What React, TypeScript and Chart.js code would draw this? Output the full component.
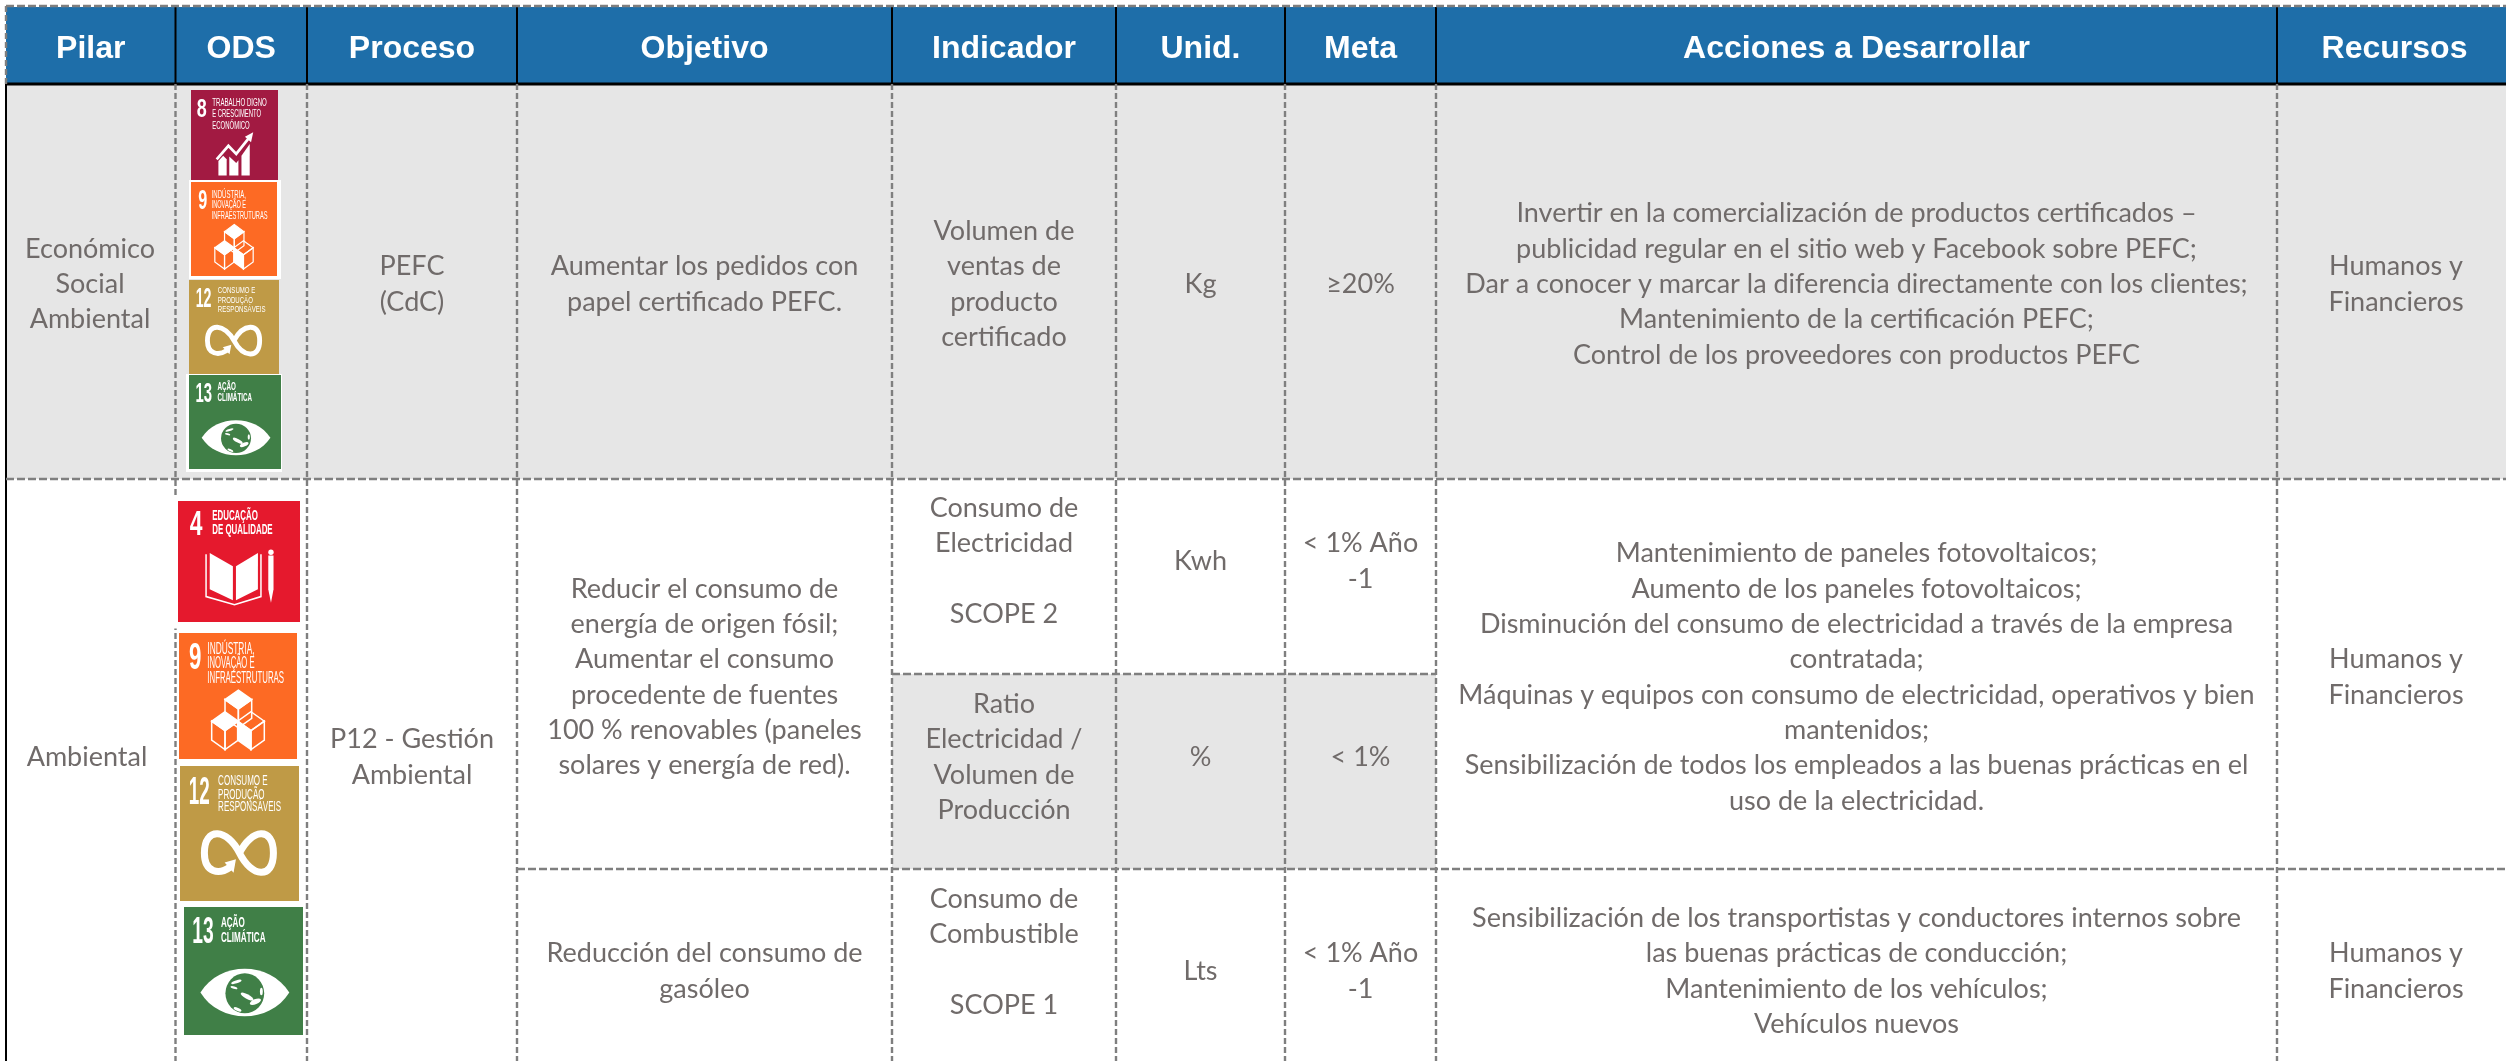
import React, { useEffect, useRef } from "react";
import { Chart, registerables } from "chart.js";

Chart.register(...registerables);

const WIDTH = 2506;
const HEIGHT = 1061;

// ---- table content ----
const headers = ["Pilar", "ODS", "Proceso", "Objetivo", "Indicador", "Unid.", "Meta", "Acciones a Desarrollar", "Recursos"];
const pilar = [["Económico", "Social", "Ambiental"], ["Ambiental"]];
const proceso = [["PEFC", "(CdC)"], ["P12 - Gestión", "Ambiental"]];
const objetivo = [
  ["Aumentar los pedidos con", "papel certificado PEFC."],
  ["Reducir el consumo de", "energía de origen fósil;", "Aumentar el consumo", "procedente de fuentes", "100 % renovables (paneles", "solares y energía de red)."],
  ["Reducción del consumo de", "gasóleo"],
];
const indicador = [
  ["Volumen de", "ventas de", "producto", "certificado"],
  ["Consumo de", "Electricidad", "", "SCOPE 2"],
  ["Ratio", "Electricidad /", "Volumen de", "Producción"],
  ["Consumo de", "Combustible", "", "SCOPE 1"],
];
const unidad = ["Kg", "Kwh", "%", "Lts"];
const meta = [["≥20%"], ["< 1% Año", "-1"], ["< 1%"], ["< 1% Año", "-1"]];
const acciones = [
  ["Invertir en la comercialización de productos certificados –", "publicidad regular en el sitio web y Facebook sobre PEFC;", "Dar a conocer y marcar la diferencia directamente con los clientes;", "Mantenimiento de la certificación PEFC;", "Control de los proveedores con productos PEFC"],
  ["Mantenimiento de paneles fotovoltaicos;", "Aumento de los paneles fotovoltaicos;", "Disminución del consumo de electricidad a través de la empresa", "contratada;", "Máquinas y equipos con consumo de electricidad, operativos y bien", "mantenidos;", "Sensibilización de todos los empleados a las buenas prácticas en el", "uso de la electricidad."],
  ["Sensibilización de los transportistas y conductores internos sobre", "las buenas prácticas de conducción;", "Mantenimiento de los vehículos;", "Vehículos nuevos"],
];
const recursos = ["Humanos y", "Financieros"];

// ---- layout in axis units (axes run 0..2506 and 0..1061) ----
const colEdges = [6, 175.5, 307, 517, 892, 1116, 1285, 1436, 2277, 2512];
const headerTop = 7;
const headerBottom = 84;
const rowRule1 = 479;
const rowRule2 = 674;
const rowRule3 = 869;
const rowCentre1 = 283;
const rowCentre2 = 560;
const rowCentre3 = 756;
const rowCentre4 = 970;
const mergedCentre = 676;

type Cell = { x: number; y: number; lines: string[] };
const mid = (i: number) => (colEdges[i] + colEdges[i + 1]) / 2;
const cells: Cell[] = [
  { x: 90, y: rowCentre1, lines: pilar[0] },
  { x: 87, y: rowCentre3, lines: pilar[1] },
  { x: mid(2), y: rowCentre1, lines: proceso[0] },
  { x: mid(2), y: rowCentre3, lines: proceso[1] },
  { x: mid(3), y: rowCentre1, lines: objetivo[0] },
  { x: mid(3), y: mergedCentre, lines: objetivo[1] },
  { x: mid(3), y: rowCentre4, lines: objetivo[2] },
  { x: mid(4), y: rowCentre1, lines: indicador[0] },
  { x: mid(4), y: rowCentre2, lines: indicador[1] },
  { x: mid(4), y: rowCentre3, lines: indicador[2] },
  { x: mid(4), y: 951, lines: indicador[3] },
  { x: mid(5), y: rowCentre1, lines: [unidad[0]] },
  { x: mid(5), y: rowCentre2, lines: [unidad[1]] },
  { x: mid(5), y: rowCentre3, lines: [unidad[2]] },
  { x: mid(5), y: rowCentre4, lines: [unidad[3]] },
  { x: mid(6), y: rowCentre1, lines: meta[0] },
  { x: mid(6), y: rowCentre2, lines: meta[1] },
  { x: mid(6), y: rowCentre3, lines: meta[2] },
  { x: mid(6), y: rowCentre4, lines: meta[3] },
  { x: mid(7), y: rowCentre1, lines: acciones[0] },
  { x: mid(7), y: mergedCentre, lines: acciones[1] },
  { x: mid(7), y: rowCentre4, lines: acciones[2] },
  { x: 2396, y: rowCentre1, lines: recursos },
  { x: 2396, y: mergedCentre, lines: recursos },
  { x: 2396, y: rowCentre4, lines: recursos },
];

const GREY = "#7f7f7f";
const BODY = "#706b6a";
const BLUE = "#1e6ea9";
const PANEL = "#e6e6e6";

type Seg = [number, number, number, number];
const dashedSegs: Seg[] = [
  [6, headerTop - 1, WIDTH, headerTop - 1],
  [6, headerTop - 1, 6, headerBottom],
  [6, rowRule1, WIDTH, rowRule1],
  [colEdges[4], rowRule2, colEdges[7], rowRule2],
  [colEdges[3], rowRule3, WIDTH, rowRule3],
  ...colEdges.slice(1, 9).map((x) => [x, headerBottom, x, HEIGHT] as Seg),
];
const solidSegs: Seg[] = [
  [6, headerBottom, WIDTH, headerBottom],
  [6, headerBottom, 6, HEIGHT],
  ...colEdges.slice(1, 9).map((x) => [x, headerTop, x, headerBottom] as Seg),
];

// ---- SDG tiles ----
type Tile = {
  kind: "8" | "9" | "12" | "13" | "4";
  box: [number, number, number, number];
  halo?: [number, number, number, number];
};
const tiles: Tile[] = [
  { kind: "8", box: [191, 90, 278, 180] },
  { kind: "9", box: [191, 182, 277, 276], halo: [189, 180, 281, 279] },
  { kind: "12", box: [189, 280, 279, 374] },
  { kind: "13", box: [189, 375, 281, 469], halo: [186, 374, 282, 472] },
  { kind: "4", box: [178, 501, 300, 622], halo: [172, 497, 303, 628.5] },
  { kind: "9", box: [179, 633, 297, 759] },
  { kind: "12", box: [180, 766, 299, 901] },
  { kind: "13", box: [184, 907, 303, 1035] },
];
const tileColor: Record<string, string> = { "8": "#a21a42", "9": "#fd6a24", "12": "#bf9a46", "13": "#407f47", "4": "#e5192d" };
const tileNumber: Record<string, [number, number, number]> = {
  "8": [0.065, 0.115, 0.295],
  "9": [0.085, 0.105, 0.285],
  "12": [0.074, 0.176, 0.285],
  "13": [0.07, 0.18, 0.285],
  "4": [0.096, 0.104, 0.278],
};
const tileTitle: Record<string, { u: number; bold: boolean; size: number; rows: [string, number, number][] }> = {
  "8": { u: 0.245, bold: false, size: 0.125, rows: [["TRABALHO DIGNO", 0.178, 0.627], ["E CRESCIMENTO", 0.296, 0.56], ["ECONÓMICO", 0.43, 0.43]] },
  "9": { u: 0.24, bold: false, size: 0.125, rows: [["INDÚSTRIA,", 0.17, 0.4], ["INOVAÇÃO E", 0.279, 0.4], ["INFRAESTRUTURAS", 0.396, 0.65]] },
  "12": { u: 0.32, bold: false, size: 0.105, rows: [["CONSUMO E", 0.142, 0.417], ["PRODUÇÃO", 0.241, 0.39], ["RESPONSÁVEIS", 0.337, 0.53]] },
  "13": { u: 0.31, bold: true, size: 0.11, rows: [["AÇÃO", 0.16, 0.2], ["CLIMÁTICA", 0.277, 0.375]] },
  "4": { u: 0.28, bold: true, size: 0.115, rows: [["EDUCAÇÃO", 0.155, 0.375], ["DE QUALIDADE", 0.275, 0.496]] },
};

function drawPictogram(ctx: CanvasRenderingContext2D, kind: string, X: (u: number) => number, Y: (v: number) => number, w: number, h: number) {
  const poly = (pts: number[][], close = true) => {
    ctx.beginPath();
    pts.forEach((p, i) => (i ? ctx.lineTo(X(p[0]), Y(p[1])) : ctx.moveTo(X(p[0]), Y(p[1]))));
    if (close) ctx.closePath();
  };
  ctx.fillStyle = "#fff";
  ctx.strokeStyle = "#fff";
  ctx.lineJoin = "miter";
  if (kind === "8") {
    poly([[0.315, 0.95], [0.315, 0.79], [0.37, 0.73], [0.41, 0.77], [0.41, 0.95]]);
    ctx.fill();
    poly([[0.44, 0.95], [0.44, 0.74], [0.52, 0.81], [0.545, 0.78], [0.545, 0.95]]);
    ctx.fill();
    poly([[0.58, 0.95], [0.58, 0.73], [0.675, 0.6], [0.675, 0.95]]);
    ctx.fill();
    ctx.lineWidth = 0.03 * h;
    poly([[0.295, 0.77], [0.43, 0.62], [0.52, 0.71], [0.66, 0.54]], false);
    ctx.stroke();
    poly([[0.715, 0.47], [0.69, 0.58], [0.62, 0.52]]);
    ctx.fill();
  } else if (kind === "9") {
    const a = 0.113, b = 0.15, c = b / 2;
    ctx.lineWidth = Math.max(1.2, 0.012 * h);
    const topFace = (cx: number, cy: number) => [[cx, cy - b], [cx + a, cy - c], [cx, cy], [cx - a, cy - c]];
    const leftFace = (cx: number, cy: number) => [[cx - a, cy - c], [cx, cy], [cx, cy + b], [cx - a, cy + c]];
    const rightFace = (cx: number, cy: number) => [[cx + a, cy - c], [cx, cy], [cx, cy + b], [cx + a, cy + c]];
    const cube = (cx: number, cy: number, solid: "top" | "left") => {
      [topFace(cx, cy), leftFace(cx, cy), rightFace(cx, cy)].forEach((f) => {
        poly(f);
        ctx.stroke();
      });
      poly(solid === "top" ? topFace(cx, cy) : leftFace(cx, cy));
      ctx.fill();
    };
    cube(0.503, 0.603, "top");
    cube(0.39, 0.775, "top");
    cube(0.61, 0.775, "left");
  } else if (kind === "12") {
    ctx.lineWidth = 0.052 * h;
    ctx.lineCap = "butt";
    const m = 0.645;
    ctx.beginPath();
    ctx.moveTo(X(0.5), Y(m));
    ctx.bezierCurveTo(X(0.6), Y(m - 0.18), X(0.785), Y(m - 0.2), X(0.785), Y(m));
    ctx.bezierCurveTo(X(0.785), Y(m + 0.2), X(0.6), Y(m + 0.18), X(0.5), Y(m));
    ctx.bezierCurveTo(X(0.4), Y(m - 0.18), X(0.205), Y(m - 0.2), X(0.205), Y(m));
    ctx.bezierCurveTo(X(0.205), Y(m + 0.15), X(0.33), Y(m + 0.16), X(0.42), Y(m + 0.105));
    ctx.stroke();
    poly([[0.47, 0.69], [0.45, 0.79], [0.375, 0.715]]);
    ctx.fill();
  } else if (kind === "13") {
    ctx.beginPath();
    ctx.moveTo(X(0.138), Y(0.668));
    ctx.bezierCurveTo(X(0.3), Y(0.42), X(0.72), Y(0.42), X(0.885), Y(0.668));
    ctx.bezierCurveTo(X(0.72), Y(0.916), X(0.3), Y(0.916), X(0.138), Y(0.668));
    ctx.closePath();
    ctx.fill();
    ctx.fillStyle = tileColor["13"];
    ctx.beginPath();
    ctx.ellipse(X(0.511), Y(0.674), 0.163 * w, 0.156 * h, 0, 0, Math.PI * 2);
    ctx.fill();
    ctx.fillStyle = "#fff";
    const blob = (u: number, v: number, ru: number, rv: number, rot: number) => {
      ctx.beginPath();
      ctx.ellipse(X(u), Y(v), ru * w, rv * h, rot, 0, Math.PI * 2);
      ctx.fill();
    };
    blob(0.44, 0.585, 0.045, 0.012, -0.3);
    blob(0.42, 0.63, 0.03, 0.01, 0.3);
    blob(0.53, 0.7, 0.06, 0.018, 0.5);
    blob(0.6, 0.74, 0.05, 0.02, -0.4);
    blob(0.45, 0.8, 0.035, 0.012, 0.4);
    blob(0.65, 0.66, 0.012, 0.03, 0);
  } else if (kind === "4") {
    ctx.lineWidth = Math.max(1.5, 0.012 * h);
    poly([[0.26, 0.43], [0.45, 0.54], [0.45, 0.82], [0.26, 0.73]]);
    ctx.fill();
    poly([[0.475, 0.54], [0.655, 0.43], [0.655, 0.73], [0.475, 0.82]]);
    ctx.fill();
    poly([[0.23, 0.44], [0.23, 0.79], [0.463, 0.857], [0.68, 0.79], [0.68, 0.44]], false);
    ctx.stroke();
    poly([[0.74, 0.45], [0.783, 0.45], [0.783, 0.73], [0.762, 0.84], [0.74, 0.73]]);
    ctx.fill();
    ctx.beginPath();
    ctx.arc(X(0.762), Y(0.424), 0.022 * w, 0, Math.PI * 2);
    ctx.fill();
  }
}

function drawTile(ctx: CanvasRenderingContext2D, t: Tile, px: (v: number) => number, py: (v: number) => number) {
  if (t.halo) {
    ctx.fillStyle = "#fff";
    ctx.fillRect(px(t.halo[0]), py(t.halo[1]), px(t.halo[2]) - px(t.halo[0]), py(t.halo[3]) - py(t.halo[1]));
  }
  const x0 = px(t.box[0]), y0 = py(t.box[1]);
  const w = px(t.box[2]) - x0, h = py(t.box[3]) - y0;
  ctx.fillStyle = tileColor[t.kind];
  ctx.fillRect(x0, y0, w, h);
  const X = (u: number) => x0 + u * w;
  const Y = (v: number) => y0 + v * h;
  const [nu, nw, nb] = tileNumber[t.kind];
  ctx.fillStyle = "#fff";
  ctx.textAlign = "left";
  ctx.textBaseline = "alphabetic";
  ctx.font = `bold ${0.29 * h}px "Liberation Sans"`;
  ctx.fillText(t.kind, X(nu), Y(nb), nw * w);
  const title = tileTitle[t.kind];
  ctx.font = `${title.bold ? "bold " : ""}${title.size * h}px "Liberation Sans"`;
  title.rows.forEach(([s, v, mw]) => ctx.fillText(s, X(title.u), Y(v), mw * w));
  drawPictogram(ctx, t.kind, X, Y, w, h);
}

const tablePlugin = {
  id: "tablePlugin",
  beforeDatasetsDraw(chart: any) {
    const { ctx, scales } = chart;
    const px = (v: number) => scales.x.getPixelForValue(v);
    const py = (v: number) => scales.y.getPixelForValue(v);
    const fill = (c: string, a: number, b: number, d: number, e: number) => {
      ctx.fillStyle = c;
      ctx.fillRect(px(a), py(b), px(d) - px(a), py(e) - py(b));
    };
    ctx.save();
    fill(BLUE, 6, headerTop, WIDTH, headerBottom);
    fill(PANEL, 6, headerBottom, WIDTH, rowRule1);
    fill(PANEL, colEdges[4], rowRule2, colEdges[7], rowRule3);
    ctx.restore();
  },
  afterDatasetsDraw(chart: any) {
    const { ctx, scales } = chart;
    const px = (v: number) => scales.x.getPixelForValue(v);
    const py = (v: number) => scales.y.getPixelForValue(v);
    ctx.save();
    tiles.forEach((t) => {
      ctx.save();
      drawTile(ctx, t, px, py);
      ctx.restore();
    });
    ctx.textAlign = "center";
    ctx.textBaseline = "alphabetic";
    ctx.fillStyle = "#ffffff";
    ctx.font = 'bold 32px "Liberation Sans"';
    headers.forEach((h, i) => ctx.fillText(h, px(mid(i)), py(58)));
    const anchors = chart.getDatasetMeta(chart.data.datasets.length - 1).data;
    ctx.fillStyle = BODY;
    ctx.font = '27px "Lato"';
    const lh = 35.3;
    cells.forEach((c, i) => {
      const a = anchors[i];
      c.lines.forEach((s, j) => {
        if (s) ctx.fillText(s, a.x, a.y + (j - (c.lines.length - 1) / 2) * lh + 10);
      });
    });
    ctx.restore();
  },
};

const segDataset = (s: Seg, color: string, width: number, dash: number[]) => ({
  data: [{ x: s[0], y: s[1] }, { x: s[2], y: s[3] }],
  showLine: true,
  borderColor: color,
  borderWidth: width,
  borderDash: dash,
  pointRadius: 0,
  fill: false,
});

export default function App() {
  const ref = useRef<HTMLCanvasElement>(null);
  useEffect(() => {
    document.body.style.margin = "0";
    const chart = new Chart(ref.current as HTMLCanvasElement, {
      type: "scatter",
      data: {
        datasets: [
          ...dashedSegs.map((s) => segDataset(s, GREY, 2.4, s[1] === s[3] ? [8, 3] : [6, 3])),
          ...solidSegs.map((s) => segDataset(s, "#000000", s[1] === s[3] ? 3 : 2, [])),
          { data: cells.map((c) => ({ x: c.x, y: c.y })), pointRadius: 0, showLine: false },
        ],
      } as any,
      options: {
        animation: false,
        responsive: false,
        layout: { padding: 0 },
        plugins: { legend: { display: false }, tooltip: { enabled: false }, title: { display: false } },
        scales: {
          x: { type: "linear", display: false, min: 0, max: WIDTH },
          y: { type: "linear", display: false, min: 0, max: HEIGHT, reverse: true },
        },
      },
      plugins: [tablePlugin],
    } as any);
    return () => chart.destroy();
  }, []);
  return <canvas ref={ref} width={WIDTH} height={HEIGHT} style={{ display: "block" }} />;
}
